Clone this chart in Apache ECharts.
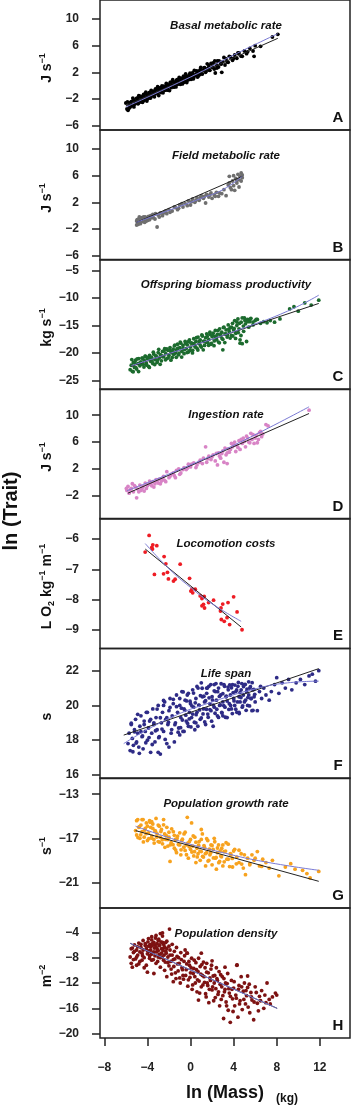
<!DOCTYPE html>
<html>
<head>
<meta charset="utf-8">
<script src="https://cdn.jsdelivr.net/npm/echarts@6/dist/echarts.min.js"></script>
<style>
  html, body { margin: 0; padding: 0; background: #fff; }
  #chart { width: 351px; height: 1106px; }
</style>
</head>
<body>
<div id="chart"></div>
<script>
// ln(mass) vs ln(trait), 8 stacked panels sharing the x axis

var xTicks = [-8, -4, 0, 4, 8, 12];

// A: basal metabolic rate
var basalPts = [
  [-6.0,-2.6],[-5.9,-3.5],[-5.8,-3.7],[-5.7,-2.9],[-5.6,-3.2],[-5.5,-2.4],[-5.4,-3.0],[-5.3,-2.1],[-5.2,-2.8],[-5.1,-2.5],
  [-5.0,-1.9],[-4.9,-2.7],[-4.8,-2.2],[-4.7,-1.7],[-4.6,-2.4],[-4.5,-2.0],[-4.4,-1.5],[-4.3,-2.2],[-4.2,-1.8],[-4.1,-1.3],
  [-4.0,-2.0],[-3.9,-1.6],[-3.8,-1.1],[-3.7,-1.8],[-3.6,-1.3],[-3.5,-0.9],[-3.4,-1.5],[-3.3,-0.7],[-3.2,-1.2],[-3.1,-0.5],
  [-3.0,-1.0],[-2.9,-0.6],[-2.8,-0.3],[-2.7,-0.9],[-2.6,-0.4],[-2.5,-0.1],[-2.4,-0.7],[-2.3,-0.2],[-2.2,0.2],[-2.1,-0.5],
  [-2.0,0.0],[-1.9,0.4],[-1.8,-0.3],[-1.7,0.1],[-1.6,0.6],[-1.5,-0.1],[-1.4,0.3],[-1.3,0.8],[-1.2,0.2],[-1.1,0.6],
  [-1.0,1.0],[-0.9,0.3],[-0.8,0.8],[-0.7,1.2],[-0.6,0.5],[-0.5,1.0],[-0.4,1.4],[-0.3,0.8],[-0.2,1.2],[-0.1,1.6],
  [0.0,1.0],[0.1,1.5],[0.2,1.9],[0.3,1.2],[0.5,1.7],[0.6,2.1],[0.7,1.4],[0.8,1.9],[0.9,2.4],[1.0,1.8],
  [1.2,2.3],[1.3,2.7],[1.4,2.0],[1.6,2.6],[1.7,3.0],[1.8,2.3],[2.0,2.8],[2.1,3.4],[2.2,2.5],[2.4,3.1],
  [2.5,3.7],[2.6,2.8],[2.8,3.3],[2.9,2.0],[3.0,3.6],[3.2,3.1],[3.3,4.0],[3.5,3.5],[3.7,4.3],[3.9,3.8],
  [4.1,4.6],[4.3,4.1],[4.5,4.9],[4.8,4.4],[5.0,5.2],[5.2,4.8],[5.5,5.6],[5.8,5.2],[6.0,6.0],[5.9,4.4],
  [6.5,5.9],[7.6,7.3],[8.1,7.7],[2.3,1.9],[-4.8,-1.5],
  [-5.85,-2.44],[-5.72,-3.44],[-5.6,-2.55],[-5.45,-2.94],[-5.35,-1.86],[-5.25,-3.19],[-5.15,-2.32],[-5.05,-2.44],[-4.95,-1.87],[-4.85,-2.69],
  [-4.75,-1.52],[-4.65,-2.44],[-4.55,-1.67],[-4.45,-2.5],[-4.35,-1.32],[-4.25,-1.95],[-4.15,-0.97],[-4.05,-2.3],[-3.95,-1.52],[-3.85,-1.05],
  [-3.75,-1.87],[-3.65,-0.7],[-3.55,-1.52],[-3.45,-0.95],[-3.35,-1.68],[-3.25,-0.5],[-3.15,-1.13],[-3.05,-0.15],[-2.95,-1.48],[-2.85,-0.6],
  [-2.75,-1.03],[-2.65,-0.05],[-2.55,-1.08],[-2.45,-0.11],[-2.35,-0.63],[-2.25,0.34],[-2.15,-0.68],[-2.05,0.09],[-1.95,-0.73],[-1.85,0.54],
  [-1.75,-0.18],[-1.65,0.89],[-1.55,-0.23],[-1.45,0.44],[-1.35,-0.19],[-1.25,0.89],[-1.15,0.36],[-1.05,1.24],[-0.95,0.21],[-0.85,1.09],
  [-0.75,0.26],[-0.65,1.44],[-0.55,0.71],[-0.45,1.78],[-0.35,0.46],[-0.25,1.43],[-0.15,0.91],[-0.05,1.88],[0.05,0.96],[0.15,1.83],
  [0.25,1.01],[0.35,2.28],[0.45,1.56],[0.55,2.23],[0.65,1.3],[0.75,2.18],[0.85,1.65],[0.95,2.73],[1.1,1.74],[1.25,2.65],
  [1.45,2.2],[1.55,3.28],[1.75,2.33],[1.9,3.34],[2.05,2.75],[2.25,3.7],[2.45,2.65],[2.65,3.7],[2.85,3.25],[3.1,4.23],
  [3.4,3.55],[3.6,4.4],[4.0,4.1],[4.4,4.9],[4.7,4.42],[5.3,5.07]
];
var basalLin = [[-6.0,-3.0],[8.1,7.1]];
var basalSmooth = [[-6.0,-3.2],[0,1.3],[4,4.6],[8.1,7.8]];

// B: field metabolic rate
var fieldPts = [
  [-5.0,-1.4],[-5.0,-0.8],[-4.9,-1.1],[-4.8,-0.5],[-4.7,-1.0],[-4.6,-0.7],[-4.5,-0.3],[-4.4,-0.9],[-4.3,-0.6],[-4.2,-0.2],
  [-4.1,-0.8],[-4.0,-0.4],[-3.9,-0.1],[-3.8,-0.6],[-3.7,0.0],[-3.6,-0.3],[-3.5,0.2],[-3.3,-0.5],[-3.1,-1.7],[-3.0,0.1],
  [-2.8,0.4],[-2.6,0.0],[-2.4,0.6],[-2.2,0.3],[-2.0,0.9],[-1.7,0.7],[-1.4,1.2],[-1.2,0.9],[-1.0,1.6],[-0.7,1.3],
  [-0.5,1.8],[-0.2,2.2],[0.0,1.6],[0.2,2.5],[0.4,2.0],[0.6,2.7],[0.8,2.3],[1.0,3.0],[1.2,2.6],[1.4,1.9],
  [1.5,3.2],[1.7,2.8],[1.9,3.4],[2.0,2.6],[2.2,3.1],[2.4,3.5],[2.6,2.9],[2.9,3.3],[3.1,3.9],[3.5,4.6],
  [3.6,5.9],[3.7,4.2],[3.8,3.9],[3.9,5.2],[4.0,4.5],[4.1,3.8],[4.2,5.6],[4.3,4.9],[4.4,6.2],[4.5,5.4],
  [4.6,5.9],[4.7,6.4],[4.8,6.1],[4.8,5.7],[3.3,3.0],
  [-4.95,-0.6],[-4.85,-1.3],[-4.75,-0.2],[-4.65,-1.2],[-4.55,-0.5],[-4.35,-0.2],[-4.25,-1.0],[-4.15,-0.4],[-3.95,-0.7],[-3.75,-0.2],
  [-3.45,-0.3],[-3.25,0.3],[-2.9,-0.2],[-2.5,0.4],[-2.3,0.7],[-1.9,0.5],[-1.5,1.3],[-1.1,1.1],[-0.8,1.8],[-0.3,1.5],
  [0.1,2.1],[0.5,2.3],[0.9,2.7],[1.3,2.9],[1.8,3.1],[2.3,2.9],[2.7,3.4],[3.6,4.9],[4.0,6.0],[4.3,5.3],[4.5,4.3],[4.7,5.2]
];
var fieldLin = [[-5.0,-1.0],[4.8,5.9]];
var fieldSmooth = [[-5.0,-1.0],[-2,0.8],[1,2.6],[3,3.9],[4.8,5.9]];

// C: offspring biomass productivity
var offspringPts = [
  [-5.6,-23.0],[-5.5,-22.2],[-5.4,-23.3],[-5.3,-21.7],[-5.2,-22.6],[-5.1,-21.3],[-5.0,-22.9],[-4.9,-21.9],[-4.8,-21.0],[-4.7,-22.3],
  [-4.6,-21.6],[-4.5,-20.9],[-4.4,-22.0],[-4.3,-21.3],[-4.2,-20.6],[-4.1,-21.8],[-4.0,-21.0],[-3.9,-22.4],[-3.8,-20.4],[-3.7,-21.5],
  [-3.6,-20.8],[-3.5,-21.9],[-3.4,-20.2],[-3.3,-21.2],[-3.2,-20.6],[-3.1,-21.7],[-3.0,-19.9],[-2.9,-20.9],[-2.8,-20.3],[-2.7,-21.4],
  [-2.6,-19.7],[-2.5,-20.6],[-2.4,-19.2],[-2.3,-20.1],[-2.2,-21.0],[-2.1,-19.5],[-2.0,-20.4],[-1.9,-19.0],[-1.8,-19.9],[-1.7,-20.8],
  [-1.6,-19.3],[-1.5,-18.7],[-1.4,-20.0],[-1.3,-19.4],[-1.2,-18.4],[-1.1,-20.3],[-1.0,-19.0],[-0.9,-18.2],[-0.8,-19.7],[-0.7,-18.6],
  [-0.6,-20.1],[-0.5,-17.9],[-0.4,-19.2],[-0.3,-18.5],[-0.2,-19.8],[-0.1,-17.6],[0.0,-18.9],[0.1,-18.2],[0.2,-19.5],[0.3,-17.4],
  [0.4,-18.6],[0.5,-17.9],[0.6,-19.1],[0.7,-17.1],[0.8,-18.3],[0.9,-17.6],[1.0,-18.9],[1.1,-16.9],[1.2,-17.9],[1.3,-18.6],
  [1.4,-17.2],[1.5,-16.5],[1.6,-18.1],[1.7,-17.5],[1.8,-16.2],[1.9,-18.4],[2.0,-17.0],[2.1,-16.4],[2.2,-17.8],[2.3,-15.9],
  [2.4,-17.2],[2.5,-16.6],[2.6,-18.0],[2.7,-15.6],[2.8,-16.9],[2.9,-16.2],[3.0,-17.5],[3.1,-15.3],[3.2,-16.5],[3.3,-15.8],
  [3.4,-17.1],[3.5,-14.9],[3.6,-16.1],[3.7,-15.4],[3.8,-16.8],[3.9,-14.6],[4.0,-15.8],[4.1,-14.1],[4.2,-16.4],[4.3,-15.0],
  [4.4,-13.8],[4.5,-15.6],[4.6,-17.6],[4.7,-14.4],[4.8,-18.3],[4.9,-15.1],[5.0,-13.6],[5.1,-14.7],[5.2,-17.9],[5.3,-13.9],
  [5.4,-15.3],[5.5,-14.3],[5.6,-13.7],[5.8,-14.9],[6.0,-14.1],[6.2,-13.9],[6.5,-14.6],[6.8,-14.3],[7.1,-14.5],[7.4,-14.1],
  [7.8,-14.4],[8.3,-13.8],[9.2,-12.0],[9.6,-11.6],[10.0,-12.4],[10.6,-10.9],[11.2,-11.3],[11.9,-10.4],[3.0,-19.4],[4.6,-18.2],
  [-5.45,-21.17],[-5.32,-23.38],[-5.2,-21.8],[-5.07,-22.62],[-4.95,-21.04],[-4.82,-23.35],[-4.7,-21.77],[-4.57,-21.99],[-4.45,-20.91],[-4.32,-22.52],
  [-4.2,-20.54],[-4.07,-22.16],[-3.95,-20.78],[-3.82,-22.6],[-3.7,-20.92],[-3.57,-21.53],[-3.45,-19.85],[-3.32,-22.07],[-3.2,-20.49],[-3.07,-21.3],
  [-2.95,-19.32],[-2.82,-22.04],[-2.7,-20.46],[-2.57,-20.67],[-2.45,-19.59],[-2.32,-21.21],[-2.2,-19.23],[-2.07,-20.85],[-1.95,-19.47],[-1.82,-21.28],
  [-1.7,-19.6],[-1.57,-20.22],[-1.45,-18.54],[-1.32,-20.75],[-1.2,-19.17],[-1.07,-19.99],[-0.95,-18.01],[-0.82,-20.73],[-0.7,-19.15],[-0.57,-19.36],
  [-0.45,-18.28],[-0.32,-19.9],[-0.2,-17.92],[-0.07,-19.53],[0.05,-18.15],[0.18,-19.97],[0.3,-18.29],[0.43,-18.9],[0.55,-17.22],[0.68,-19.44],
  [0.8,-17.86],[0.93,-18.67],[1.05,-16.7],[1.18,-19.41],[1.3,-17.83],[1.43,-18.05],[1.55,-16.97],[1.68,-18.58],[1.8,-16.6],[1.93,-18.22],
  [2.05,-16.84],[2.18,-18.66],[2.3,-16.98],[2.43,-17.59],[2.55,-15.91],[2.68,-18.13],[2.8,-16.55],[2.93,-17.36],[3.05,-15.38],[3.18,-18.1],
  [3.3,-16.52],[3.43,-16.73],[3.55,-15.65],[3.68,-17.27],[3.8,-15.29],[3.93,-16.9],[4.05,-15.53],[4.18,-17.34],[4.3,-14.36],[4.43,-16.28],
  [4.55,-14.6],[4.68,-16.81],[4.8,-13.63],[4.93,-16.05],[5.05,-14.07],[5.3,-14.3],[5.55,-13.84],[5.8,-14.38],[6.1,-13.88]
];
var offspringLin = [[-5.5,-22.4],[11.9,-11.0]];
var offspringSmooth = [[-5.5,-22.3],[0,-18.8],[5,-15.4],[9,-12.4],[11.9,-9.5]];

// D: ingestion rate
var ingestionPts = [
  [-5.9,-1.2],[-5.8,-0.6],[-5.7,-1.6],[-5.5,-0.9],[-5.4,-0.2],[-5.3,-1.4],[-5.1,-0.7],[-5.0,-2.3],[-4.9,-1.0],[-4.7,-0.4],
  [-4.6,-1.2],[-4.4,-0.6],[-4.2,-0.1],[-4.1,-0.9],[-3.9,-0.3],[-3.8,0.2],[-3.6,-0.5],[-3.5,0.1],[-3.3,-0.2],[-3.2,0.4],
  [-3.0,-0.1],[-2.9,0.5],[-2.7,0.2],[-2.5,0.9],[-2.4,0.3],[-2.2,1.6],[-2.0,0.7],[-1.8,1.2],[-1.5,1.0],[-1.3,1.8],
  [-1.1,2.0],[-0.9,1.4],[-0.6,2.2],[-0.4,1.9],[-0.2,2.7],[0.0,2.3],[0.3,2.9],[0.6,2.6],[0.9,3.3],[1.2,3.6],
  [1.4,5.3],[1.5,3.0],[1.7,3.9],[1.9,3.4],[2.1,4.1],[2.3,3.2],[2.5,2.6],[2.6,4.4],[2.8,3.6],[3.0,4.7],
  [3.1,3.0],[3.3,4.1],[3.5,5.0],[3.6,4.5],[3.8,5.8],[3.9,5.3],[4.1,6.0],[4.2,4.6],[4.3,5.5],[4.5,6.2],
  [4.6,4.9],[4.8,5.8],[4.9,6.6],[5.1,5.3],[5.2,6.9],[5.4,6.0],[5.6,7.3],[5.7,6.4],[5.9,5.8],[6.1,7.0],
  [6.3,6.4],[6.5,7.6],[6.7,7.2],[7.0,8.6],[7.2,8.4],[11.0,10.75],[6.2,5.9],[3.4,2.8],
  [-5.95,-0.9],[-5.6,-1.1],[-5.2,-0.5],[-4.8,-1.4],[-4.5,-0.9],[-4.3,-1.3],[-4.0,-0.5],[-3.7,-0.1],[-3.4,-0.7],[-3.1,0.2],
  [-2.8,-0.2],[-2.6,0.6],[-2.3,0.1],[-1.9,0.9],[-1.6,1.4],[-1.4,0.7],[-1.0,1.2],[-0.7,1.9],[-0.3,2.1],[0.1,2.7],
  [0.5,2.2],[0.8,3.0],[1.1,2.8],[1.6,3.5],[2.0,3.8],[2.4,4.3],[2.7,3.9],[2.9,4.3],[3.2,5.1],[3.4,4.4],
  [3.7,4.9],[4.0,5.6],[4.4,5.2],[4.7,6.4],[5.0,6.1],[5.3,6.6],[5.5,5.9],[5.8,7.1],[6.0,6.6],[6.4,7.4],[6.6,6.8]
];
var ingestionLin = [[-5.8,-1.6],[11.0,10.25]];
var ingestionSmooth = [[-5.9,-1.25],[0,2.6],[5,6.3],[11.0,11.25]];

// E: locomotion costs
var locomotionPts = [
  [-4.21,-6.43],[-3.84,-5.88],[-3.59,-6.28],[-3.5,-6.19],[-3.53,-6.33],[-3.13,-6.22],[-3.35,-7.17],[-2.45,-6.58],[-2.29,-6.82],[-2.14,-7.1],
  [-2.5,-7.15],[-2.05,-7.32],[-1.58,-7.39],[-1.43,-7.33],[-0.96,-6.83],[-0.09,-7.3],[0.13,-7.66],[0.44,-7.66],[0.03,-7.72],[0.2,-7.78],
  [0.9,-7.88],[1.06,-7.97],[1.27,-7.9],[1.06,-8.21],[1.2,-8.16],[1.3,-8.28],[1.68,-8.1],[2.14,-8.02],[2.83,-8.28],[2.99,-8.15],
  [2.78,-8.38],[3.48,-8.1],[4.0,-7.91],[4.32,-8.41],[2.86,-8.66],[3.13,-8.72],[3.39,-8.6],[3.63,-8.83],[4.78,-9.0]
];
var locomotionLin = [[-4.2,-6.33],[4.7,-8.91]];
var locomotionSmooth = [[-4.2,-6.15],[-2,-6.98],[0,-7.6],[2,-8.14],[4.7,-8.72]];

// F: life span
var lifespanPts = [
  [-5.8,17.8],[-5.7,18.4],[-5.6,17.4],[-5.5,18.9],[-5.4,18.1],[-5.3,17.7],[-5.2,18.6],[-5.1,19.2],[-5.0,17.9],[-4.9,18.4],
  [-4.8,17.6],[-4.7,18.8],[-4.6,19.4],[-4.5,18.2],[-4.4,17.5],[-4.3,18.9],[-4.2,18.5],[-4.1,19.6],[-4.0,18.0],[-3.9,18.7],
  [-3.8,19.1],[-3.7,17.3],[-3.6,18.4],[-3.5,19.8],[-3.4,18.9],[-3.3,17.9],[-3.2,19.3],[-3.1,18.6],[-3.0,20.0],[-2.9,18.2],
  [-2.8,17.2],[-2.7,19.0],[-2.6,19.6],[-2.5,18.5],[-2.4,20.2],[-2.3,19.2],[-2.2,17.8],[-2.1,18.9],[-2.0,19.7],[-1.9,20.4],
  [-1.8,18.4],[-1.7,19.4],[-1.6,20.1],[-1.5,17.9],[-1.4,19.0],[-1.3,20.6],[-1.2,19.6],[-1.1,18.7],[-1.0,20.0],[-0.9,19.3],
  [-0.8,20.8],[-0.7,18.5],[-0.6,19.8],[-0.5,20.3],[-0.4,19.1],[-0.3,20.6],[-0.2,18.8],[-0.1,19.6],[0.0,20.1],[0.1,19.3],
  [0.2,20.9],[0.3,19.9],[0.4,18.6],[0.5,20.4],[0.6,19.6],[0.7,21.0],[0.8,20.0],[0.9,19.2],[1.0,21.3],[1.1,20.5],
  [1.2,19.8],[1.3,20.2],[1.4,18.9],[1.5,20.7],[1.6,19.5],[1.7,21.1],[1.8,20.1],[1.9,19.7],[2.0,20.5],[2.1,18.8],
  [2.2,19.9],[2.3,20.8],[2.4,20.3],[2.5,19.4],[2.6,21.0],[2.7,20.0],[2.8,20.6],[2.9,19.6],[3.0,20.2],[3.1,21.2],
  [3.2,19.9],[3.3,20.5],[3.4,19.3],[3.5,20.9],[3.6,20.1],[3.7,20.6],[3.8,19.8],[3.9,21.2],[4.0,20.4],[4.1,20.0],
  [4.2,20.8],[4.3,19.6],[4.4,21.1],[4.5,20.5],[4.6,20.2],[4.7,20.9],[4.8,19.9],[4.9,20.6],[5.0,21.2],[5.1,20.3],
  [5.2,20.8],[5.3,20.0],[5.4,20.6],[5.5,21.0],[5.6,20.4],[5.7,19.7],[5.8,20.9],[5.9,20.5],[6.0,20.2],[6.2,19.7],
  [6.4,20.8],[6.6,20.4],[6.8,21.0],[7.0,20.6],[7.3,20.3],[7.5,20.8],[7.8,21.2],[8.0,21.6],[8.2,20.7],[8.5,21.3],
  [8.8,21.0],[9.1,21.5],[9.4,20.9],[9.8,21.3],[10.2,21.5],[10.6,21.2],[11.0,21.7],[11.3,21.8],[11.6,21.4],[11.9,22.0],
  [-3.0,17.3],[-2.0,17.6],[0.5,19.0],[3.0,19.4],[4.5,19.6],[6.5,21.1],[1.5,21.0],[2.2,21.2],[-1.0,18.3],[-2.5,20.0],
  [-5.5,18.98],[-5.35,17.33],[-5.2,18.48],[-5.05,17.83],[-4.9,19.49],[-4.75,17.24],[-4.6,18.49],[-4.45,18.24],[-4.3,19.1],[-4.15,17.85],
  [-4.0,19.6],[-3.85,18.15],[-3.7,19.2],[-3.55,17.75],[-3.4,19.0],[-3.25,18.54],[-3.1,19.79],[-2.95,18.14],[-2.8,19.29],[-2.65,18.64],
  [-2.5,20.29],[-2.35,18.04],[-2.2,19.29],[-2.05,19.03],[-1.9,19.88],[-1.75,18.61],[-1.6,20.35],[-1.45,18.89],[-1.3,19.93],[-1.15,18.46],
  [-1.0,20.4],[-0.92,18.72],[-0.84,19.84],[-0.76,19.16],[-0.68,20.78],[-0.6,18.5],[-0.52,19.72],[-0.44,19.44],[-0.36,20.26],[-0.28,18.98],
  [-0.2,20.7],[-0.12,19.22],[-0.04,20.24],[0.04,18.76],[0.12,19.98],[0.2,19.5],[0.28,20.71],[0.36,19.03],[0.44,20.15],[0.52,19.47],
  [0.6,21.09],[0.68,18.8],[0.76,20.02],[0.84,19.74],[0.92,20.56],[1.0,19.28],[1.08,20.99],[1.16,19.51],[1.24,20.53],[1.32,19.05],
  [1.4,20.27],[1.48,19.78],[1.56,21.0],[1.64,19.32],[1.72,20.44],[1.8,19.76],[1.88,21.2],[1.96,19.09],[2.04,20.31],[2.12,20.02],
  [2.2,20.84],[2.28,19.55],[2.36,21.26],[2.44,19.78],[2.52,20.79],[2.6,19.31],[2.68,20.52],[2.76,20.03],[2.84,21.25],[2.92,19.56],
  [3.0,20.68],[3.08,19.99],[3.16,21.1],[3.24,19.32],[3.32,20.53],[3.4,20.25],[3.48,21.06],[3.56,19.77],[3.64,21.19],[3.72,20.0],
  [3.8,21.02],[3.88,19.53],[3.96,20.74],[4.04,20.26],[4.12,21.17],[4.2,19.78],[4.28,20.89],[4.36,20.2],[4.44,21.32],[4.52,19.53],
  [4.6,20.74],[4.68,20.45],[4.76,21.26],[4.84,19.98],[4.92,21.09],[5.0,20.2],[5.08,21.21],[5.16,19.72],[5.24,20.94],[5.32,20.45],
  [5.4,21.36],[5.48,19.97],[5.56,21.08],[5.64,20.4],[5.72,21.31],[5.8,19.72],[5.88,20.93],[5.96,20.64]
];
var lifespanLin = [[-6.2,18.29],[11.9,22.12]];
var lifespanSmooth = [[-6.2,17.8],[-2,19.25],[2,20.2],[6,20.95],[9,21.3],[11.9,21.4]];

// G: population growth rate
var growthPts = [
  [-5.1,-16.3],[-5.0,-16.7],[-4.9,-15.3],[-4.8,-16.0],[-4.7,-17.0],[-4.6,-15.8],[-4.5,-16.4],[-4.4,-15.3],[-4.3,-16.9],[-4.2,-16.1],
  [-4.1,-15.6],[-4.0,-17.2],[-3.9,-16.5],[-3.8,-15.4],[-3.7,-16.0],[-3.6,-16.8],[-3.5,-15.7],[-3.4,-17.1],[-3.3,-16.3],[-3.2,-15.2],
  [-3.1,-16.6],[-3.0,-17.3],[-2.9,-15.9],[-2.8,-16.9],[-2.7,-16.2],[-2.6,-17.5],[-2.5,-15.3],[-2.4,-16.6],[-2.3,-17.1],[-2.2,-16.0],
  [-2.1,-17.7],[-2.0,-16.9],[-1.9,-19.1],[-1.8,-17.4],[-1.6,-16.4],[-1.5,-17.9],[-1.4,-17.1],[-1.3,-18.3],[-1.2,-16.8],[-1.0,-17.6],
  [-0.9,-18.5],[-0.8,-17.2],[-0.6,-16.6],[-0.5,-18.1],[-0.4,-17.6],[-0.3,-15.1],[-0.2,-18.8],[-0.1,-17.3],[0.0,-18.0],[0.1,-15.6],
  [0.2,-17.7],[0.3,-18.6],[0.4,-16.9],[0.5,-19.2],[0.6,-17.9],[0.7,-18.4],[0.8,-17.3],[0.9,-19.0],[1.0,-18.2],[1.1,-16.6],
  [1.2,-18.7],[1.3,-17.8],[1.4,-19.5],[1.5,-18.3],[1.6,-17.2],[1.7,-19.0],[1.8,-18.5],[1.9,-17.6],[2.0,-19.4],[2.1,-18.0],
  [2.2,-17.0],[2.3,-18.8],[2.4,-19.8],[2.5,-18.3],[2.6,-17.6],[2.7,-19.1],[2.8,-18.6],[2.9,-17.9],[3.0,-19.5],[3.1,-18.2],
  [3.3,-17.4],[3.5,-18.9],[3.7,-18.4],[3.9,-19.6],[4.1,-18.0],[4.3,-18.7],[4.5,-19.2],[4.7,-18.4],[4.9,-19.7],[5.1,-20.3],
  [5.3,-18.8],[5.5,-19.3],[5.7,-18.5],[5.9,-19.0],[6.2,-18.2],[6.4,-19.5],[6.7,-18.9],[7.0,-19.2],[7.3,-19.7],[7.6,-19.0],
  [8.2,-20.4],[8.8,-19.6],[9.3,-19.3],[9.7,-19.8],[10.4,-19.9],[10.8,-20.2],[11.1,-20.6],[11.9,-20.0],[-3.6,-15.5],[1.0,-16.2],
  [-5.0,-15.4],[-4.875,-16.93],[-4.75,-15.95],[-4.625,-16.68],[-4.5,-15.3],[-4.375,-17.33],[-4.25,-16.25],[-4.125,-16.58],[-4.0,-15.9],[-3.875,-17.03],
  [-3.75,-15.55],[-3.625,-16.98],[-3.5,-16.1],[-3.375,-17.43],[-3.25,-16.35],[-3.125,-16.88],[-3.0,-15.8],[-2.875,-17.34],[-2.75,-16.39],[-2.625,-17.13],
  [-2.5,-15.78],[-2.375,-17.82],[-2.25,-16.76],[-2.125,-17.11],[-2.0,-16.45],[-1.875,-17.59],[-1.75,-16.14],[-1.625,-17.58],[-1.5,-16.73],[-1.375,-18.07],
  [-1.25,-17.01],[-1.125,-17.56],[-1.0,-16.5],[-0.875,-18.04],[-0.75,-17.08],[-0.625,-17.81],[-0.5,-16.45],[-0.375,-18.49],[-0.25,-17.43],[-0.125,-17.76],
  [0.0,-17.1],[0.125,-18.24],[0.25,-16.78],[0.375,-18.21],[0.5,-17.35],[0.625,-18.69],[0.75,-17.63],[0.875,-18.16],[1.0,-17.1],[1.125,-18.63],
  [1.25,-17.66],[1.375,-18.39],[1.5,-17.03],[1.625,-19.06],[1.75,-17.99],[1.875,-18.32],[2.0,-17.65],[2.125,-18.78],[2.25,-17.31],[2.375,-18.74],
  [2.5,-17.88],[2.625,-19.21],[2.75,-18.14],[2.875,-18.67],[3.0,-17.6],[3.125,-19.13],[3.25,-18.16],[3.375,-18.89],[3.5,-17.53],[3.625,-19.56],
  [3.75,-18.49],[3.875,-18.82],[4.0,-18.15],[4.25,-19.31],[4.5,-18.08],[4.75,-19.34],[5.0,-18.5],[5.5,-19.4],[6.0,-18.8],[6.6,-19.55]
];
var growthLin = [[-5.1,-16.3],[11.9,-20.9]];
var growthSmooth = [[-5.1,-15.9],[-1,-17.25],[3,-18.3],[7,-19.15],[11.9,-19.9]];

// H: population density
var densityPts = [
  [-5.6,-7.9],[-5.5,-8.9],[-5.4,-6.5],[-5.4,-9.5],[-5.3,-7.2],[-5.2,-6.0],[-5.1,-8.2],[-5.0,-6.8],[-4.9,-7.6],[-4.8,-5.7],
  [-4.7,-8.6],[-4.6,-6.4],[-4.5,-7.3],[-4.4,-5.3],[-4.3,-8.0],[-4.2,-6.1],[-4.1,-9.2],[-4.0,-6.9],[-3.9,-5.0],[-3.8,-7.7],
  [-3.7,-6.3],[-3.6,-4.7],[-3.6,-8.4],[-3.5,-5.7],[-3.4,-10.5],[-3.4,-7.1],[-3.3,-6.0],[-3.2,-4.5],[-3.2,-8.9],[-3.1,-6.6],
  [-3.0,-5.3],[-3.0,-7.9],[-2.9,-6.1],[-2.8,-4.2],[-2.8,-9.5],[-2.7,-7.3],[-2.6,-5.6],[-2.6,-4.1],[-2.5,-8.4],[-2.5,-6.5],
  [-2.4,-10.0],[-2.3,-7.0],[-2.2,-5.4],[-2.1,-8.8],[-2.0,-6.2],[-1.95,-3.5],[-1.9,-7.6],[-1.8,-9.8],[-1.7,-5.9],[-1.6,-11.8],
  [-1.6,-8.3],[-1.5,-7.0],[-1.4,-10.4],[-1.3,-6.4],[-1.2,-9.0],[-1.1,-8.0],[-1.0,-11.2],[-0.9,-7.2],[-0.8,-9.6],[-0.7,-10.8],
  [-0.6,-8.6],[-0.5,-6.8],[-0.4,-9.9],[-0.3,-7.3],[-0.2,-11.5],[-0.1,-9.2],[0.0,-10.4],[0.1,-8.1],[0.2,-12.3],[0.3,-9.7],
  [0.4,-11.0],[0.5,-8.8],[0.6,-13.4],[0.7,-10.2],[0.74,-14.7],[0.8,-11.7],[0.9,-9.4],[1.0,-12.6],[1.1,-10.8],[1.2,-8.7],
  [1.3,-11.9],[1.4,-13.7],[1.5,-8.9],[1.5,-10.3],[1.6,-12.4],[1.7,-15.1],[1.8,-11.2],[1.9,-9.8],[2.0,-13.1],[2.1,-10.9],
  [2.2,-12.0],[2.3,-14.3],[2.4,-9.6],[2.5,-11.6],[2.6,-13.4],[2.7,-15.6],[2.8,-10.7],[2.9,-12.6],[3.0,-14.0],[3.07,-17.6],
  [3.1,-11.3],[3.2,-13.0],[3.3,-15.0],[3.4,-12.1],[3.5,-16.3],[3.6,-13.6],[3.69,-18.2],[3.8,-11.6],[3.9,-14.5],[4.0,-12.8],
  [4.1,-15.6],[4.2,-13.9],[4.3,-9.2],[4.4,-17.4],[4.5,-12.4],[4.6,-14.8],[4.7,-11.0],[4.8,-16.2],[4.9,-13.3],[5.0,-12.0],
  [5.1,-15.3],[5.2,-14.0],[5.3,-12.7],[5.5,-16.7],[5.6,-13.5],[5.7,-14.7],[5.86,-17.8],[6.0,-12.6],[6.2,-15.2],[6.4,-14.1],
  [6.6,-13.2],[6.8,-16.0],[7.0,-15.1],[7.1,-12.0],[7.3,-14.6],[7.6,-14.2],[7.88,-13.6],[8.0,-13.9],[-4.0,-10.3],[-2.2,-11.0],
  [1.0,-7.3],[-0.33,-7.3],[2.0,-8.5],[4.32,-9.16],[5.3,-10.9],[3.2,-9.5],[-5.0,-9.2],
  [-4.2,-5.8],[-4.1,-6.6],[-4.0,-7.4],[-3.95,-5.5],[-3.9,-6.2],[-3.85,-7.0],[-3.8,-8.1],[-3.75,-5.9],[-3.7,-6.8],[-3.65,-7.5],
  [-3.6,-5.2],[-3.55,-6.1],[-3.5,-7.2],[-3.45,-8.3],[-3.4,-5.6],[-3.35,-6.5],[-3.3,-7.7],[-3.25,-4.9],[-3.2,-6.3],[-3.15,-7.1],
  [-3.1,-5.8],[-3.05,-8.6],[-3.0,-6.9],[-2.95,-5.1],[-2.9,-7.5],[-2.85,-6.0],[-2.8,-8.0],[-2.75,-5.5],[-2.7,-6.6],[-2.65,-7.9],
  [-2.6,-4.6],[-2.55,-6.9],[-2.5,-5.9],[-2.45,-7.6],[-2.4,-6.3],[-2.35,-8.7],[-2.3,-5.6],[-2.25,-7.3],[-2.2,-6.6],[-2.1,-7.9],
  [-5.5,-6.6],[-5.3,-8.3],[-5.2,-7.0],[-5.0,-7.9],[-4.9,-6.3],[-4.8,-9.0],[-4.7,-7.1],[-4.6,-5.9],[-4.5,-8.4],[-4.4,-6.8],[-4.3,-9.6],[-4.45,-7.7],
  [-2.0,-9.3],[-1.9,-6.8],[-1.85,-8.6],[-1.75,-10.6],[-1.7,-7.6],[-1.55,-9.4],[-1.45,-8.2],[-1.35,-11.3],[-1.25,-7.8],[-1.15,-10.1],
  [-1.05,-8.9],[-0.95,-12.0],[-0.85,-8.3],[-0.75,-9.9],[-0.65,-11.4],[-0.55,-7.7],[-0.45,-10.8],[-0.35,-9.0],[-0.25,-12.5],[-0.15,-8.6],
  [-0.05,-11.1],[0.05,-9.6],[0.15,-13.0],[0.25,-10.5],[0.35,-8.4],[0.45,-12.0],[0.55,-9.9],[0.65,-11.5],[0.75,-8.1],[0.85,-13.6],
  [0.95,-10.6],[1.05,-9.1],[1.15,-12.3],[1.25,-11.0],[1.35,-9.6],[1.45,-14.2],[1.55,-12.0],[1.65,-10.4],[1.75,-13.0],[1.85,-11.6],
  [1.95,-9.2],[2.05,-12.6],[2.15,-14.8],[2.25,-10.8],[2.35,-12.9],
  [2.45,-11.3],[2.55,-13.8],[2.65,-10.2],[2.75,-12.2],[2.85,-14.6],[2.95,-11.0],[3.15,-13.4],[3.25,-12.0],[3.35,-15.6],[3.45,-10.5],
  [3.55,-12.9],[3.7,-14.1],[3.85,-13.0],[3.95,-16.5],[4.05,-11.8],[4.25,-14.4],[4.45,-13.0],[4.55,-15.3],[4.75,-12.6],[4.95,-14.6],
  [5.15,-13.2],[5.35,-15.8],[5.45,-12.2],[5.65,-14.2],[5.9,-15.0],[6.1,-13.5],[6.3,-16.4],[6.5,-14.8],[6.9,-13.9],[7.4,-15.3]
];
var densityLin = [[-5.6,-5.74],[8.04,-16.0]];
var densitySmooth = [[-5.6,-5.74],[8.04,-16.0]];

var panelTitles = ['Basal metabolic rate', 'Field metabolic rate', 'Offspring biomass productivity',
  'Ingestion rate', 'Locomotion costs', 'Life span', 'Population growth rate', 'Population density'];
var panelLetters = ['A', 'B', 'C', 'D', 'E', 'F', 'G', 'H'];
var yTicks = [
  [10, 6, 2, -2, -6], [10, 6, 2, -2, -6], [-5, -10, -15, -20, -25], [10, 6, 2, -2],
  [-6, -7, -8, -9], [22, 20, 18, 16], [-13, -17, -21], [-4, -8, -12, -16, -20]
];
var yRanges = [
  [-6.65, 12.85], [-6.65, 12.85], [-26.6, -3.03], [-5.45, 13.9],
  [-9.62, -5.32], [15.79, 23.28], [-23.32, -11.53], [-20.68, -0.17]
];
var xRange = [-8.4, 14.8];

var colors = ['#000000', '#6f6f6f', '#1c6b2e', '#d884c6', '#ee1c24', '#2e2b86', '#f7a21e', '#7d1212'];
var pts = [basalPts, fieldPts, offspringPts, ingestionPts, locomotionPts, lifespanPts, growthPts, densityPts];
var lins = [basalLin, fieldLin, offspringLin, ingestionLin, locomotionLin, lifespanLin, growthLin, densityLin];
var smooths = [basalSmooth, fieldSmooth, offspringSmooth, ingestionSmooth, locomotionSmooth, lifespanSmooth, growthSmooth, densitySmooth];

// unit labels (rich text: m = main, p = superscript, b = subscript)
var units = [
  '{m|J s}{p|\u22121}', '{m|J s}{p|\u22121}', '{m|kg s}{p|\u22121}', '{m|J s}{p|\u22121}',
  '{m|L O}{b|2}{m| kg}{p|\u22121}{m| m}{p|\u22121}', '{m|s}', '{m|s}{p|\u22121}', '{m|m}{p|\u22122}'
];

var FONT = '"Liberation Sans", Arial, Helvetica, sans-serif';
var tops = [0, 130, 259.5, 389, 518.5, 648.5, 778, 908];
var H = 130;

function minus(v) { return String(v).replace('-', '\u2212'); }

var chart = echarts.init(document.getElementById('chart'), null, { renderer: 'canvas' });

var grids = [], xAxes = [], yAxes = [], series = [], graphics = [];
for (var i = 0; i < 8; i++) {
  grids.push({ left: 100, top: tops[i], width: 250, height: H, show: true,
    borderColor: '#222', borderWidth: 1.5, backgroundColor: 'transparent' });

  xAxes.push({
    type: 'value', gridIndex: i, min: xRange[0], max: xRange[1], show: i === 7, position: 'bottom',
    axisLine: { show: false, onZero: false }, splitLine: { show: false },
    axisTick: { show: true, length: 8, customValues: xTicks, lineStyle: { color: '#222', width: 1.5 } },
    axisLabel: { customValues: xTicks, margin: 24, fontSize: 12, fontWeight: 'bold',
      color: '#222', fontFamily: FONT, formatter: minus }
  });

  yAxes.push({
    type: 'value', gridIndex: i, min: yRanges[i][0], max: yRanges[i][1], position: 'left',
    axisLine: { show: false, onZero: false }, splitLine: { show: false },
    axisTick: { show: true, length: 8, customValues: yTicks[i], lineStyle: { color: '#222', width: 1.5 } },
    axisLabel: { customValues: yTicks[i], margin: 21, fontSize: 12, fontWeight: 'bold',
      color: '#222', fontFamily: FONT, formatter: minus }
  });

  series.push({ type: 'scatter', xAxisIndex: i, yAxisIndex: i, data: pts[i],
    symbolSize: 3.8, itemStyle: { color: colors[i], opacity: 1 }, silent: true });
  series.push({ type: 'line', xAxisIndex: i, yAxisIndex: i, data: lins[i], showSymbol: false,
    lineStyle: { color: '#222', width: 1 }, silent: true, z: 3 });
  series.push({ type: 'line', xAxisIndex: i, yAxisIndex: i, data: smooths[i], smooth: true,
    showSymbol: false, lineStyle: { color: '#7a7ad4', width: 1 }, silent: true, z: 4 });

  graphics.push({ type: 'text', x: 226, y: tops[i] + 25.5, silent: true,
    style: { text: panelTitles[i], fill: '#111', font: 'italic bold 11.5px ' + FONT,
      textAlign: 'center', align: 'center', textVerticalAlign: 'middle', verticalAlign: 'middle' } });
  graphics.push({ type: 'text', x: 338, y: tops[i] + H - 12.5, silent: true,
    style: { text: panelLetters[i], fill: '#111', font: 'bold 15px ' + FONT,
      textAlign: 'center', align: 'center', textVerticalAlign: 'middle', verticalAlign: 'middle' } });
  graphics.push({ type: 'text', x: 47, y: tops[i] + H / 2 + 3, rotation: Math.PI / 2, silent: true,
    style: { text: units[i], fill: '#111',
      textAlign: 'center', align: 'center', textVerticalAlign: 'middle', verticalAlign: 'middle',
      rich: {
        m: { fontSize: 14, fontWeight: 'bold', fontFamily: FONT, lineHeight: 18, fill: '#111', color: '#111' },
        p: { fontSize: 9, fontWeight: 'bold', fontFamily: FONT, lineHeight: 10, verticalAlign: 'top', fill: '#111', color: '#111' },
        b: { fontSize: 9, fontWeight: 'bold', fontFamily: FONT, lineHeight: 10, verticalAlign: 'bottom', fill: '#111', color: '#111' }
      } } });
}

graphics.push({ type: 'text', x: 11, y: 511, rotation: Math.PI / 2, silent: true,
  style: { text: 'ln (Trait)', fill: '#111', font: 'bold 20px ' + FONT,
    textAlign: 'center', align: 'center', textVerticalAlign: 'middle', verticalAlign: 'middle' } });
graphics.push({ type: 'text', x: 225, y: 1093, silent: true,
  style: { text: 'ln (Mass)', fill: '#111', font: 'bold 18px ' + FONT,
    textAlign: 'center', align: 'center', textVerticalAlign: 'middle', verticalAlign: 'middle' } });
graphics.push({ type: 'text', x: 287, y: 1099, silent: true,
  style: { text: '(kg)', fill: '#111', font: 'bold 12px ' + FONT,
    textAlign: 'center', align: 'center', textVerticalAlign: 'middle', verticalAlign: 'middle' } });

chart.setOption({
  animation: false,
  backgroundColor: '#fff',
  grid: grids,
  xAxis: xAxes,
  yAxis: yAxes,
  series: series,
  graphic: { elements: graphics }
});
</script>
</body>
</html>
